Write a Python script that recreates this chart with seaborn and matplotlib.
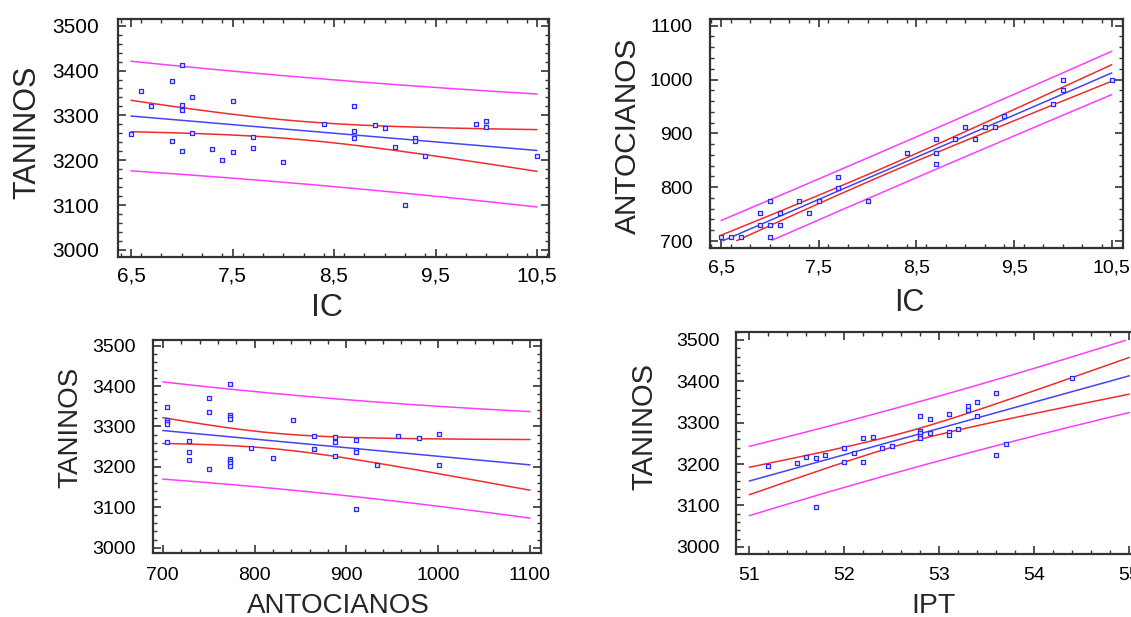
import numpy as np
import pandas as pd
import matplotlib
matplotlib.use("Agg")
import matplotlib.pyplot as plt
import seaborn as sns
from matplotlib.ticker import FixedLocator, MultipleLocator

sns.set_style("white")
plt.rcParams['font.family'] = ['Liberation Sans', 'DejaVu Sans']

# ---------------- data ----------------
# Panel 1: TANINOS vs IC
p1_ic = [6.5, 6.6, 6.7, 6.9, 6.9, 7.0, 7.0, 7.0, 7.0, 7.1, 7.1, 7.3, 7.4, 7.5, 7.5,
         7.7, 7.7, 8.0, 8.4, 8.7, 8.7, 8.7, 8.9, 9.0, 9.1, 9.2, 9.3, 9.3, 9.4, 9.9,
         10.0, 10.0, 10.5]
p1_tan = [3258, 3354, 3321, 3376, 3242, 3412, 3324, 3312, 3221, 3342, 3261, 3224, 3200,
          3333, 3218, 3251, 3227, 3197, 3281, 3321, 3266, 3249, 3279, 3272, 3230, 3099,
          3249, 3242, 3209, 3281, 3288, 3275, 3209]

# Panel 2: ANTOCIANOS vs IC
p2_ic = [6.5, 6.6, 6.7, 6.9, 6.9, 7.0, 7.0, 7.0, 7.1, 7.1, 7.3, 7.4, 7.5, 7.7, 7.7,
         8.0, 8.4, 8.7, 8.7, 8.7, 8.9, 9.0, 9.1, 9.2, 9.3, 9.4, 9.9, 10.0, 10.0, 10.5]
p2_ant = [707, 707, 707, 752, 729, 774, 729, 707, 752, 729, 774, 752, 774, 819, 798,
          774, 864, 889, 864, 843, 889, 911, 889, 911, 911, 933, 955, 1000, 980, 1000]

# Panel 3: TANINOS vs ANTOCIANOS
p3_ant = [705, 705, 705, 705, 705, 728, 728, 728, 750, 750, 750, 773, 773, 773, 773,
          773, 773, 773, 773, 796, 820, 842, 865, 865, 888, 888, 888, 910, 910, 910,
          910, 933, 956, 979, 1001, 1001]
p3_tan = [3349, 3317, 3310, 3305, 3261, 3264, 3236, 3216, 3370, 3336, 3195, 3406, 3328,
          3323, 3318, 3220, 3214, 3210, 3201, 3246, 3223, 3316, 3277, 3243, 3273, 3261,
          3226, 3267, 3242, 3236, 3096, 3204, 3276, 3271, 3282, 3204]

# Panel 4: TANINOS vs IPT
p4_ipt = [51.2, 51.5, 51.6, 51.7, 51.7, 51.8, 52.0, 52.0, 52.1, 52.2, 52.2, 52.3, 52.4,
          52.5, 52.8, 52.8, 52.8, 52.8, 52.8, 52.9, 52.9, 53.1, 53.1, 53.1, 53.2, 53.3,
          53.3, 53.4, 53.4, 53.6, 53.6, 53.7, 54.4]
p4_tan = [3196, 3202, 3217, 3214, 3097, 3221, 3238, 3205, 3226, 3264, 3205, 3266, 3240,
          3244, 3317, 3280, 3275, 3268, 3262, 3308, 3275, 3320, 3278, 3271, 3284, 3340,
          3330, 3351, 3317, 3371, 3223, 3248, 3407]

# axis ticks / labels
ic_ticks = [6.5, 7.5, 8.5, 9.5, 10.5]
ic_labels = ["6,5", "7,5", "8,5", "9,5", "10,5"]
tan_ticks = [3000, 3100, 3200, 3300, 3400, 3500]
ant_ticks = [700, 800, 900, 1000, 1100]
ant_labels = ["700", "800", "900", "1000", "1100"]
ipt_ticks = [51, 52, 53, 54, 55]
ipt_labels = ["51", "52", "53", "54", "55"]

# ---------------- helpers ----------------
def t_quantile(df, z=1.959964):
    return (z + (z**3 + z) / (4 * df) + (5 * z**5 + 16 * z**3 + 3 * z) / (96 * df**2)
            + (3 * z**7 + 19 * z**5 + 17 * z**3 - 15 * z) / (384 * df**3))


def fit_bands(x, y, xs):
    x = np.asarray(x, float)
    y = np.asarray(y, float)
    n = len(x)
    b, a = np.polyfit(x, y, 1)
    yhat = a + b * xs
    s = np.sqrt(np.sum((y - (a + b * x)) ** 2) / (n - 2))
    xm = x.mean()
    sxx = np.sum((x - xm) ** 2)
    t = t_quantile(n - 2)
    ci = t * s * np.sqrt(1.0 / n + (xs - xm) ** 2 / sxx)
    pi = t * s * np.sqrt(1 + 1.0 / n + (xs - xm) ** 2 / sxx)
    return yhat, yhat - ci, yhat + ci, yhat - pi, yhat + pi


BLUE = "#4444f4"
RED = "#f02c2c"
MAG = "#ff3cff"
PT = "#2a2aff"


def draw(ax, x, y, xticks, xlabels, yticks, xlim, ylim, xminor, yminor,
         xlabel, ylabel, xlab_fs, ylab_fs, tick_fs, xpad, ypad, xl_pos, yl_pos):
    xs = np.linspace(xticks[0], xticks[-1], 200)
    yhat, clo, chi, plo, phi = fit_bands(x, y, xs)
    lo, hi = yticks[0], yticks[-1]
    for arr, col in [(phi, MAG), (plo, MAG), (chi, RED), (clo, RED), (yhat, BLUE)]:
        arr = np.where((arr >= lo) & (arr <= hi), arr, np.nan)
        d = pd.DataFrame({"x": xs, "y": arr}).dropna()
        sns.lineplot(data=d, x="x", y="y", ax=ax, color=col, lw=1.1,
                     estimator=None, sort=False)
    sns.scatterplot(x=x, y=y, ax=ax, marker="s", s=12, facecolor="#e4e4ff",
                    edgecolor=PT, linewidth=0.9, zorder=5)
    ax.set_xlim(*xlim)
    ax.set_ylim(*ylim)
    ax.xaxis.set_major_locator(FixedLocator(xticks))
    ax.set_xticklabels(xlabels)
    ax.yaxis.set_major_locator(FixedLocator(yticks))
    ax.xaxis.set_minor_locator(MultipleLocator(xminor))
    ax.yaxis.set_minor_locator(MultipleLocator(yminor))
    ax.tick_params(which="both", direction="in", top=True, right=True,
                   bottom=True, left=True, colors="#333333")
    ax.tick_params(which="major", length=6, width=1.2, labelsize=tick_fs,
                   labelcolor="black")
    ax.tick_params(axis="x", which="major", pad=xpad)
    ax.tick_params(axis="y", which="major", pad=ypad)
    ax.tick_params(which="minor", length=3, width=1.0)
    ax.set_xlabel(xlabel, fontsize=xlab_fs)
    ax.set_ylabel(ylabel, fontsize=ylab_fs)
    ax.xaxis.set_label_coords(*xl_pos)
    ax.yaxis.set_label_coords(*yl_pos)
    for sp in ax.spines.values():
        sp.set_visible(True)
        sp.set_color("#333333")
        sp.set_linewidth(1.6)
    ax.grid(False)


fig = plt.figure(figsize=(11.31, 6.17), dpi=100)
W, H = 1131.0, 617.0


def axes_px(l, t, r, b):
    return fig.add_axes([l / W, 1 - b / H, (r - l) / W, (b - t) / H])


ax1 = axes_px(118, 19, 549, 257)
ax2 = axes_px(710, 19, 1122.7, 248.3)
ax3 = axes_px(152.7, 340, 541, 553.3)
ax4 = axes_px(736, 331.7, 1140.7, 554.3)

draw(ax1, p1_ic, p1_tan, ic_ticks, ic_labels, tan_ticks, (6.372, 10.618), (2984, 3515),
     0.2, 20, "IC", "TANINOS", 23, 22, 15, 6.8, 13.5, (0.485, -0.151), (-0.176, 0.523))
draw(ax2, p2_ic, p2_ant, ic_ticks, ic_labels, ant_ticks, (6.387, 10.612), (686.5, 1112.4),
     0.2, 20, "IC", "ANTOCIANOS", 22, 21.5, 14, 8.4, 12.5, (0.482, -0.173), (-0.165, 0.492))
draw(ax3, p3_ant, p3_tan, ant_ticks, ant_labels, tan_ticks, (689, 1112),
     (2986, 3514), 20, 20, "ANTOCIANOS", "TANINOS", 20, 20, 14, 9.6, 12, (0.477, -0.186),
     (-0.179, 0.592))
draw(ax4, p4_ipt, p4_tan, ipt_ticks, ipt_labels, tan_ticks, (50.86, 55.12),
     (2982, 3520), 0.2, 20, "IPT", "TANINOS", 20.5, 21, 14, 8.9, 11.5, (0.487, -0.174),
     (-0.191, 0.572))

fig.savefig("out.png", dpi=100)
